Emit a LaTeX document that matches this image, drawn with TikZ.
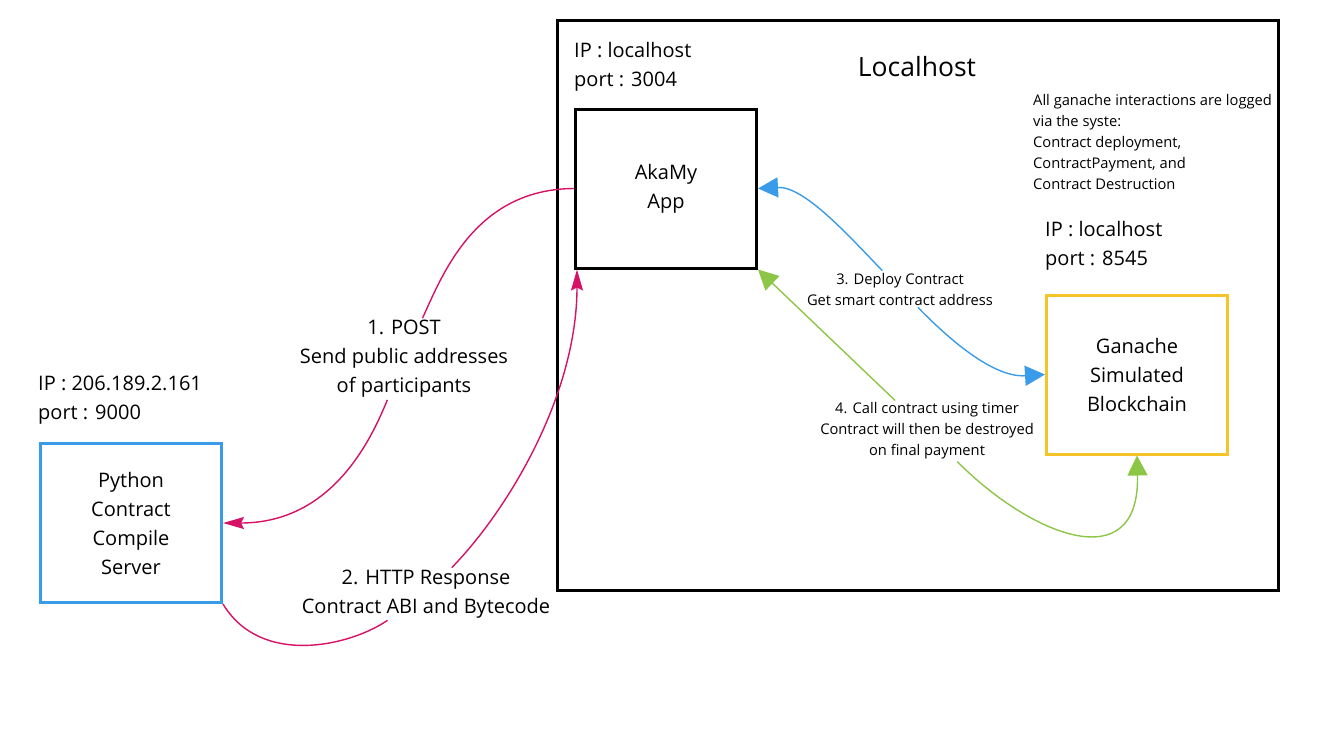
\documentclass[tikz,border=0pt]{standalone}
\usepackage{fontspec}
\setmainfont{Open Sans}
\usetikzlibrary{arrows.meta,positioning}
\definecolor{pyblue}{RGB}{58,155,232}
\definecolor{ganyellow}{RGB}{245,196,40}
\definecolor{postpink}{RGB}{214,18,102}
\definecolor{callgreen}{RGB}{141,198,71}

\begin{document}
\begin{tikzpicture}[x=1pt,y=-1pt,
	box/.style={draw,line width=3pt,minimum width=181pt,minimum height=159pt,align=center,font=\fontsize{20}{29}\selectfont},
	info/.style={align=left,inner sep=0pt,font=\fontsize{20}{29}\selectfont},
	note/.style={align=left,inner sep=0pt,font=\fontsize{14.7}{21}\selectfont},
	lbl/.style={align=center,inner sep=2pt,font=\fontsize{20}{29}\selectfont},
	small/.style={align=center,inner sep=2pt,font=\fontsize{14.7}{21}\selectfont},
	pinklink/.style={draw=postpink,line width=1.4pt,-{Stealth[length=21pt,width=12pt,inset=3pt]}},
	link/.style={line width=1.4pt},
	tipstart/.style={{Triangle[length=20pt,width=20pt]}-},
	tipend/.style={-{Triangle[length=20pt,width=20pt]}}]
	\useasboundingbox (0,0) rectangle (1333,750);
	\node[draw,line width=3pt,minimum width=721pt,minimum height=570pt] (localhost) at (917.5,305) {};
	\node[box] (app) at (666,188.5) {AkaMy\\App};
	\node[box,draw=pyblue] (py) at (131,523) {Python\\Contract\\Compile\\Server};
	\node[box,draw=ganyellow] (gan) at (1137,374.5) {Ganache\\Simulated\\Blockchain};
	\node[info] (appip) [above right=16pt and 0pt of app.north west] {IP : localhost\\port : 3004};
	\node[info] (pyip) [above right=18pt and -1pt of py.north west] {IP : 206.189.2.161\\port : 9000};
	\node[info] (ganip) [above right=23pt and 0pt of gan.north west] {IP : localhost\\port : 8545};
	\node[font=\fontsize{26.5}{32}\selectfont] (title) at (917,67) {Localhost};
	\node[note,anchor=west] (log) at (1033,142) {All ganache interactions are logged\\via the syste:\\Contract deployment,\\ContractPayment, and\\Contract Destruction};
	% labels on the connectors
	\node[lbl] (l1) at (404,359) {1. POST\\Send public addresses\\of participants};
	\node[lbl] (l2) at (426,594) {2. HTTP Response\\Contract ABI and Bytecode};
	\node[small] (l3) at (900,289) {3. Deploy Contract\\Get smart contract address};
	\node[small] (l4) at (927,431) {4. Call contract using timer\\Contract will then be destroyed\\on final payment};
	% 1. and 2.
	\draw[link,postpink] (app.west) .. controls (476,189) and (443,273) .. (l1);
	\path[pinklink] (l1) .. controls (371,440) and (332,523) .. (py.east);
	\draw[link,postpink] (py.south east) .. controls (261,667) and (350,646) .. (l2);
	\path[pinklink] (l2) .. controls (508,510) and (577,395) .. ([xshift=3pt]app.south west);
	% 3. and 4.
	\draw[link,tipstart,pyblue] (app.east) .. controls (804,186) and (848,235) .. (l3);
	\draw[link,tipend,pyblue] (l3) .. controls (941,331) and (990,378) .. (gan.west);
	\draw[link,tipstart,callgreen] (app.south east) -- (l4);
	\draw[link,tipend,callgreen] (l4) .. controls (1030,535) and (1140,580) .. (gan.south);
\end{tikzpicture}
\end{document}
